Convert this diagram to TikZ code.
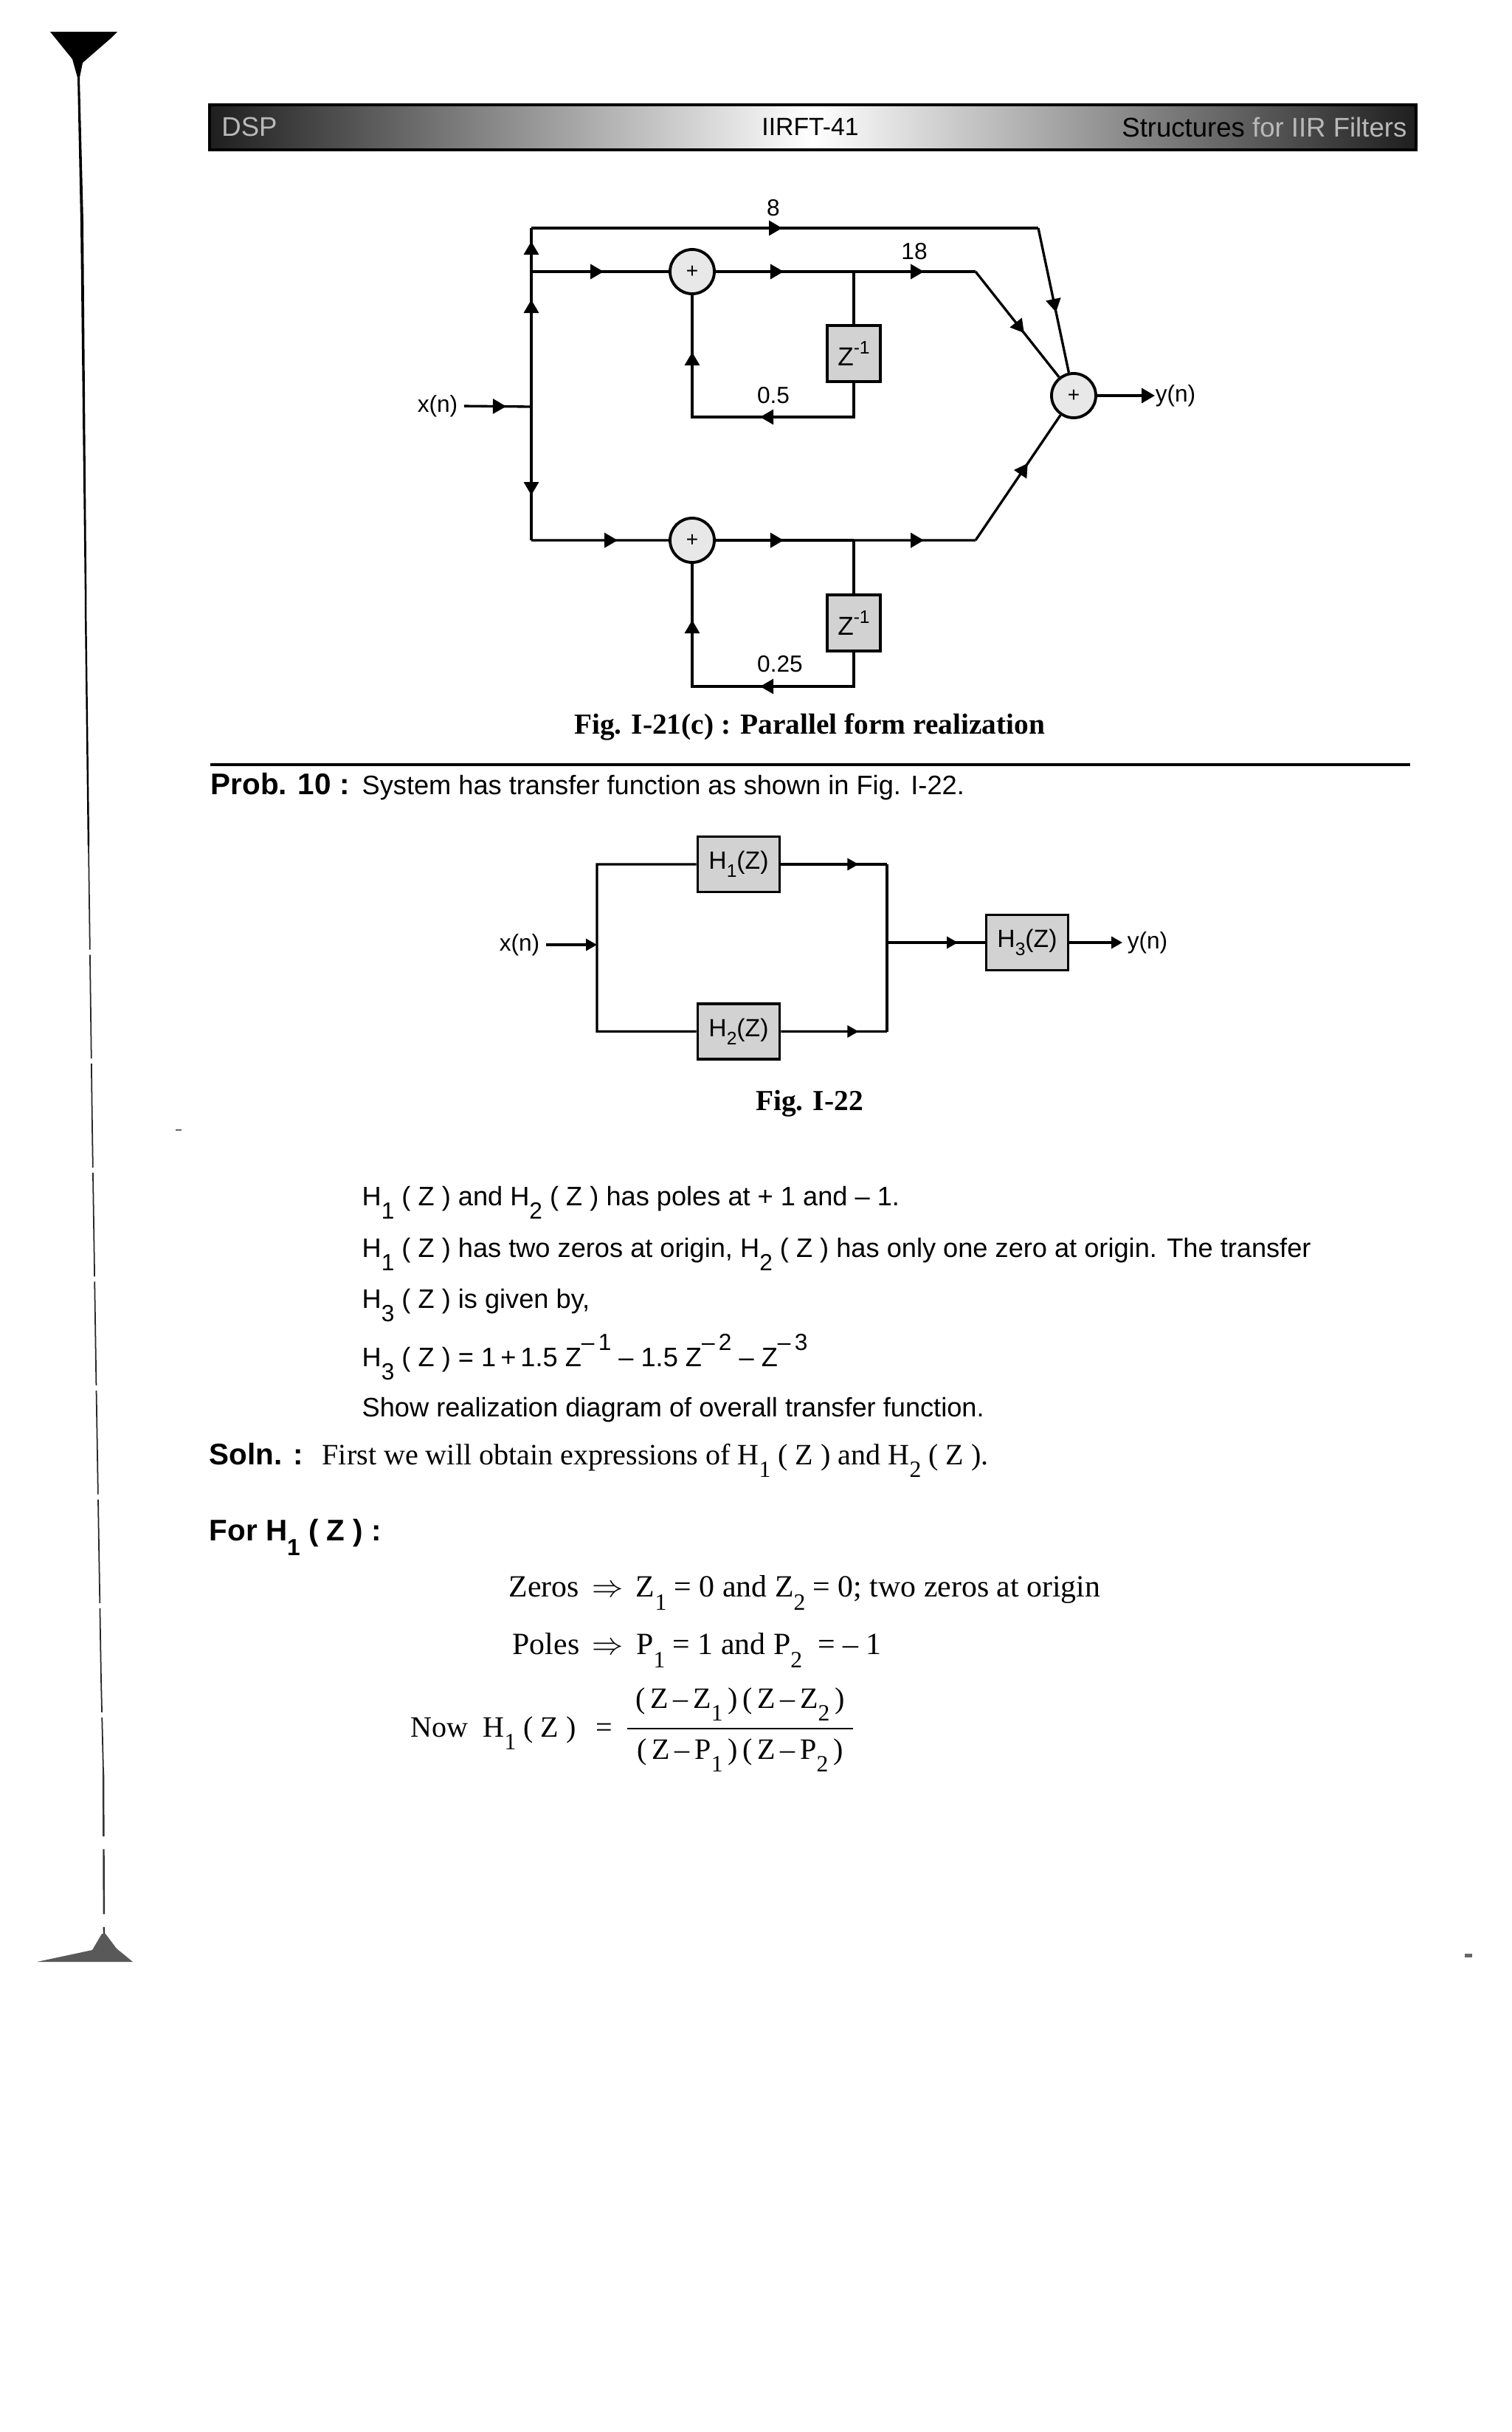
\documentclass[tikz,border=0pt]{standalone}
\usepackage{fontspec}
\setmainfont{Liberation Sans}
\newfontfamily\seriffont[Ligatures=TeX]{Liberation Serif}
\usetikzlibrary{arrows.meta,positioning,decorations.markings,calc}
\newcommand{\lowsub}[1]{\raisebox{-0.95ex}{\small #1}}
\newcommand{\highsup}[1]{\raisebox{1.1ex}{\small #1}}
\newcommand{\boxsub}[1]{\raisebox{-0.6ex}{\scriptsize #1}}
\newcommand{\bodysize}{\fontsize{10.3}{12}\selectfont}
\newcommand{\serifsize}{\fontsize{11.4}{13}\selectfont}
\tikzset{
  wire/.style={line width=0.95pt,draw=black},
  tipat/.style={postaction={decorate,decoration={markings,
    mark=at position #1 with {\arrow{Triangle[length=1.8mm,width=2mm]}}}}},
  smalltipat/.style={postaction={decorate,decoration={markings,
    mark=at position #1 with {\arrow{Triangle[length=1.5mm,width=1.6mm]}}}}},
  adder/.style={circle,draw,line width=1.1pt,fill=gray!18,minimum size=0.6cm,inner sep=0pt,font=\footnotesize},
  delaybox/.style={draw,line width=1.1pt,fill=gray!35,minimum width=0.72cm,minimum height=0.76cm,inner sep=0pt,font=\normalsize},
  blockbox/.style={draw,line width=1.1pt,fill=gray!35,minimum width=1.11cm,minimum height=0.75cm,inner sep=0pt,font=\fontsize{9.6}{11}\selectfont},
  lbl/.style={font=\small,inner sep=0pt},
  bodytxt/.style={anchor=base west,inner sep=0pt,font=\bodysize},
  seriftxt/.style={anchor=base west,inner sep=0pt,font=\serifsize\seriffont},
  boldtxt/.style={anchor=base west,inner sep=0pt,font=\fontsize{11.5}{13}\selectfont\bfseries},
  captiontxt/.style={anchor=base,inner sep=0pt,font=\fontsize{11.2}{13}\selectfont\seriffont\bfseries},
  headtxt/.style={inner sep=0pt,font=\fontsize{10.4}{12}\selectfont},
}
\begin{document}
\begin{tikzpicture}[on grid]
\useasboundingbox (0,0) rectangle (20.48,-32.95);
% binding edge of the scan
\fill (0.68,-0.43) -- (1.59,-0.43) -- (1.50,-0.52) -- (1.12,-0.85) -- (1.08,-1.05) -- (1.13,-3.00)
  -- (1.175,-8.20) -- (1.15,-8.20) -- (1.09,-3.00) -- (1.05,-1.05) -- (0.98,-0.80) -- cycle;
\draw[line width=0.7pt] (1.16,-8.20) -- (1.20,-11.46);
\draw[line width=0.5pt,gray!30!black,dash pattern=on 40pt off 2pt] (1.20,-11.46) -- (1.25,-15.27) -- (1.30,-18.51) -- (1.37,-22.75) -- (1.40,-24.00);
\draw[line width=0.7pt,gray!40!black,dash pattern=on 25pt off 5pt] (1.40,-24.00) -- (1.41,-26.20);
\fill[black!65] (0.50,-26.58) -- (1.80,-26.58) -- (1.58,-26.40) -- (1.43,-26.20) -- (1.38,-26.20) -- (1.25,-26.42) -- cycle;
\fill[black!60] (19.85,-26.47) rectangle (19.95,-26.52);
\fill[black!60] (2.38,-15.30) rectangle (2.46,-15.32);
% header band
\node[draw=black,line width=1.1pt,minimum width=16.35cm,minimum height=0.61cm,inner sep=0pt,
  left color=black!88,right color=black!88,middle color=white] (band) at (11.015,-1.725) {};
\node[headtxt,text=gray!55] (dsp) at (3.38,-1.72) {DSP};
\node[headtxt,font=\fontsize{9.6}{11}\selectfont] (pagehead) at (10.98,-1.72) {IIRFT-41};
\node[headtxt,anchor=east] (chapter) at (19.07,-1.72) {Structures \textcolor{gray!55}{for IIR Filters}};
% first figure
\node[adder] (add1) at (9.38,-3.68) {+};
\node[adder,below=3.64cm of add1] (add2) {+};
\node[adder] (add3) at (14.55,-5.36) {+};
\node[delaybox] (z1) at (11.57,-4.79) {\raisebox{-2pt}{Z}\raisebox{2.5pt}{\scriptsize -1}};
\node[delaybox,below=3.65cm of z1] (z2) {\raisebox{-2pt}{Z}\raisebox{2.5pt}{\scriptsize -1}};
\node[lbl] (xin) at (5.93,-5.50) {x(n)};
\node[lbl] (yout) at (15.93,-5.36) {y(n)};
\coordinate (busin) at (7.20,-5.51);
\coordinate (bustop) at (7.20,-3.09);
\coordinate (topbend) at (14.07,-3.09);
\coordinate (busmid) at (7.20,-3.68);
\coordinate (busbot) at (7.20,-7.32);
\coordinate (junc1) at (z1 |- add1);
\coordinate (junc2) at (z2 |- add2);
\coordinate (bend1) at (13.22,-3.68);
\coordinate (bend2) at (13.22,-7.32);
\coordinate[below=0.86cm of z1] (fbr1);
\coordinate[below=0.86cm of z2] (fbr2);
\coordinate (fbl1) at (add1 |- fbr1);
\coordinate (fbl2) at (add2 |- fbr2);
\draw[wire,shorten <=0.08cm,tipat=0.65cm] (xin.east) -- (busin);
\draw[wire,tipat=1.45cm,tipat=2.24cm] (busin) -- (bustop);
\draw[wire,tipat=1.20cm] (busin) -- (busbot);
\draw[wire,tipat=3.40cm] (bustop) -- (topbend);
\draw[wire,tipat=1.165cm] (topbend) -- (add3);
\draw[wire,tipat=0.98cm] (busmid) -- (add1);
\draw[wire,tipat=1.17cm] (busbot) -- (add2);
\draw[wire,tipat=0.92cm] (add1) -- (junc1);
\draw[wire,tipat=0.92cm] (add2) -- (junc2);
\draw[wire,tipat=0.95cm] (junc1) -- (bend1);
\draw[wire,tipat=0.95cm] (junc2) -- (bend2);
\draw[wire,tipat=1.06cm] (bend1) -- (add3);
\draw[wire,tipat=1.26cm] (bend2) -- (add3);
\draw[wire] (junc1) -- (z1);
\draw[wire] (junc2) -- (z2);
\draw[wire,tipat=1.73cm,tipat=3.53cm] (z1) -- (fbr1) -- (fbl1) -- (add1);
\draw[wire,tipat=1.73cm,tipat=3.55cm] (z2) -- (fbr2) -- (fbl2) -- (add2);
\draw[wire,-{Triangle[length=1.8mm,width=2mm]}] (add3) -- (yout.west);
\node[lbl] (gain8) at (10.48,-2.82) {8};
\node[lbl] (gain18) at (12.39,-3.41) {18};
\node[lbl] (gain05) at (10.48,-5.36) {0.5};
\node[lbl] (gain025) at (10.57,-9.00) {0.25};
\node[captiontxt] (cap1) at (10.97,-9.94) {Fig. I-21(c) : Parallel form realization};
\draw[line width=1.2pt] (2.85,-10.36) coordinate (rulel) -- (19.11,-10.36) coordinate (ruler);
\node[boldtxt] (prob) at (2.85,-10.76) {Prob. 10 :};
\node[bodytxt] (probtxt) at (4.90,-10.76) {System has transfer function as shown in Fig. I-22.};
% second figure
\node[blockbox] (h1) at (10.01,-11.71) {H\boxsub{1}(Z)};
\node[blockbox,below=2.265cm of h1] (h2) {H\boxsub{2}(Z)};
\node[blockbox] (h3) at (13.92,-12.77) {H\boxsub{3}(Z)};
\node[lbl] (xin2) at (7.04,-12.80) {x(n)};
\node[lbl] (yout2) at (15.55,-12.77) {y(n)};
\coordinate (inbus) at (8.09,-12.80);
\coordinate (lbus1) at (8.09,-11.71);
\coordinate (lbus2) at (8.09,-13.975);
\coordinate (rbus1) at (12.02,-11.71);
\coordinate (rbus2) at (12.02,-13.975);
\coordinate (rbusm) at (12.02,-12.77);
\draw[wire] (h1) -- (lbus1) -- (lbus2) -- (h2);
\draw[wire,shorten <=0.08cm,-{Triangle[length=1.5mm,width=1.6mm]}] (xin2.east) -- (inbus);
\draw[wire,smalltipat=1.05cm] (h1) -- (rbus1);
\draw[wire,smalltipat=1.05cm] (h2) -- (rbus2);
\draw[wire] (rbus1) -- (rbus2);
\draw[wire,smalltipat=0.96cm] (rbusm) -- (h3);
\draw[wire,shorten >=0.06cm,-{Triangle[length=1.5mm,width=1.6mm]}] (h3) -- (yout2.west);
\node[captiontxt] (cap2) at (10.97,-15.04) {Fig. I-22};
% text below
\node[bodytxt] (line1) at (4.90,-16.33) {H\lowsub{1} ( Z ) and H\lowsub{2} ( Z ) has poles at + 1 and -- 1.};
\node[bodytxt] (line2) at (4.90,-17.03) {H\lowsub{1} ( Z ) has two zeros at origin, H\lowsub{2} ( Z ) has only one zero at origin. The transfer};
\node[bodytxt] (line3) at (4.90,-17.72) {H\lowsub{3} ( Z ) is given by,};
\node[bodytxt] (line4) at (4.90,-18.51) {H\lowsub{3} ( Z ) = 1\,+\,1.5 Z\highsup{--\,1} -- 1.5 Z\highsup{--\,2} -- Z\highsup{--\,3}};
\node[bodytxt] (line5) at (4.90,-19.19) {Show realization diagram of overall transfer function.};
\node[boldtxt] (soln) at (2.83,-19.84) {Soln. :};
\node[seriftxt] (solntxt) at (4.36,-19.84) {First we will obtain expressions of H\lowsub{1} ( Z ) and H\lowsub{2} ( Z ).};
\node[boldtxt] (forh) at (2.83,-20.87) {For H\lowsub{1} ( Z ) :};
\node[seriftxt,font=\fontsize{11.9}{14}\selectfont\seriffont] (zeros) at (6.89,-21.63) {Zeros \,$\Rightarrow$\, Z\lowsub{1} = 0 and Z\lowsub{2} = 0; two zeros at origin};
\node[seriftxt,font=\fontsize{11.9}{14}\selectfont\seriffont] (poles) at (6.94,-22.41) {Poles \,$\Rightarrow$\, P\lowsub{1} = 1 and P\lowsub{2} \ = -- 1};
\node[seriftxt] (nowh) at (5.56,-23.53) {Now \ H\lowsub{1} ( Z ) \ \,=};
\node[seriftxt,anchor=base] (fracnum) at (10.03,-23.14) {(\,Z\,--\,Z\lowsub{1}\,)\,(\,Z\,--\,Z\lowsub{2}\,)};
\node[seriftxt,anchor=base] (fracden) at (10.03,-23.83) {(\,Z\,--\,P\lowsub{1}\,)\,(\,Z\,--\,P\lowsub{2}\,)};
\coordinate (barl) at (8.50,-23.42);
\coordinate (barr) at (11.56,-23.42);
\draw[line width=0.6pt] (barl) -- (barr);
\end{tikzpicture}
\end{document}
